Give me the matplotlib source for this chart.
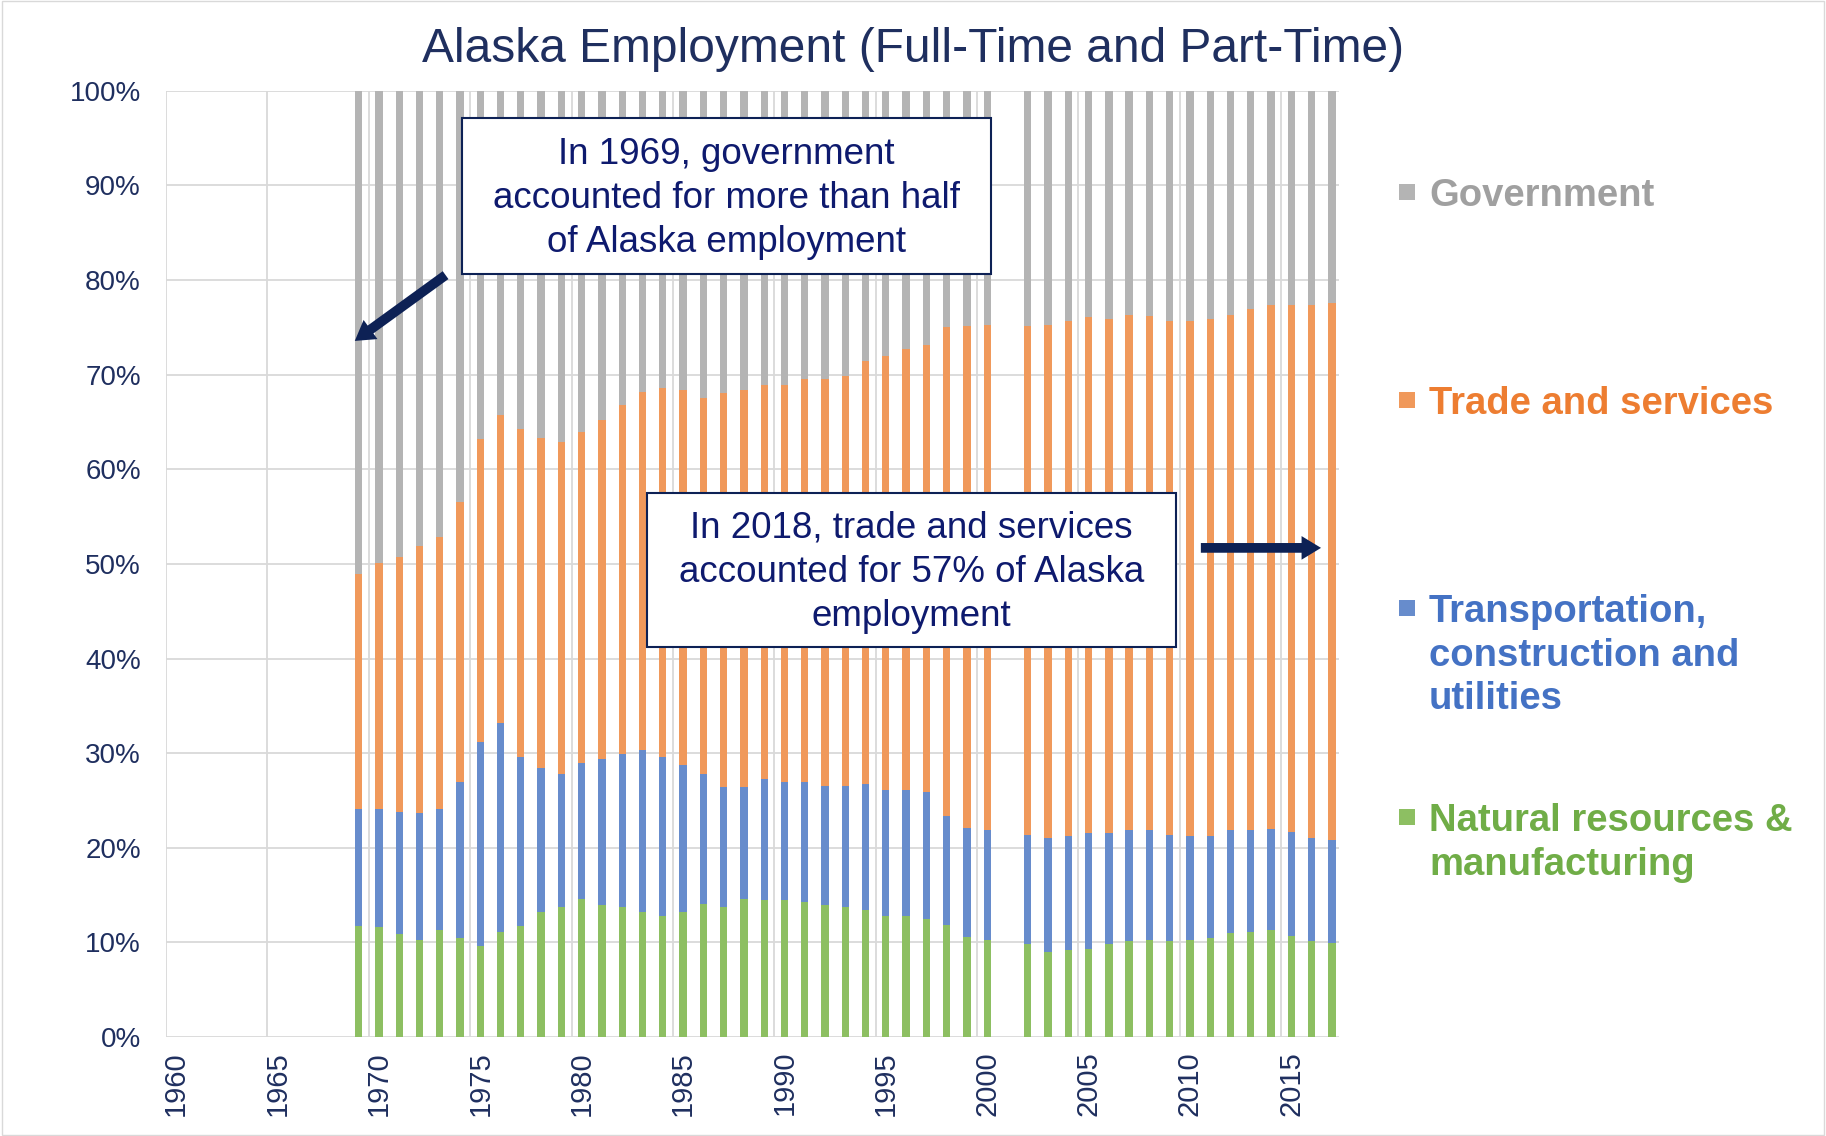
# Alaska employment shares by sector, stacked bars (1969-2017, no 2001 bar)
import matplotlib.pyplot as plt
from matplotlib.patches import Rectangle
import numpy as np

plt.rcParams['font.family'] = ['Liberation Sans', 'DejaVu Sans']

# Data (percent of total employment)
years = list(range(1969, 2001)) + list(range(2002, 2018))

natural = [11.7, 11.6, 10.9, 10.3, 11.3, 10.5, 9.6, 11.1, 11.7, 13.2,
           13.7, 14.6, 14.0, 13.7, 13.2, 12.8, 13.2, 14.1, 13.7, 14.6,
           14.5, 14.5, 14.3, 14.0, 13.7, 13.4, 12.8, 12.8, 12.5, 11.8,
           10.6, 10.3,
           9.8, 9.0, 9.2, 9.3, 9.8, 10.1, 10.3, 10.2, 10.3, 10.5,
           11.0, 11.1, 11.3, 10.7, 10.2, 9.9]

transport = [12.4, 12.5, 12.9, 13.4, 12.8, 16.5, 21.6, 22.1, 17.9, 15.2,
             14.1, 14.4, 15.4, 16.2, 17.1, 16.8, 15.6, 13.7, 12.7, 11.8,
             12.8, 12.5, 12.7, 12.5, 12.8, 13.3, 13.3, 13.3, 13.4, 11.6,
             11.5, 11.6,
             11.6, 12.0, 12.0, 12.3, 11.8, 11.8, 11.6, 11.2, 10.9, 10.7,
             10.9, 10.8, 10.7, 11.0, 10.8, 10.9]

trade = [24.8, 26.0, 26.9, 28.2, 28.7, 29.5, 32.0, 32.5, 34.7, 34.9,
         35.1, 35.0, 35.8, 36.9, 37.9, 39.0, 39.6, 39.7, 41.7, 42.0,
         41.6, 41.9, 42.6, 43.1, 43.4, 44.7, 45.9, 46.6, 47.2, 51.6,
         53.0, 53.4,
         53.7, 54.3, 54.5, 54.5, 54.3, 54.4, 54.3, 54.3, 54.5, 54.7,
         54.4, 55.0, 55.4, 55.7, 56.4, 56.8]

government = [51.1, 49.9, 49.3, 48.1, 47.2, 43.5, 36.8, 34.3, 35.7, 36.7,
              37.1, 36.0, 34.8, 33.2, 31.8, 31.4, 31.6, 32.5, 31.9, 31.6,
              31.1, 31.1, 30.4, 30.4, 30.1, 28.6, 28.0, 27.3, 26.9, 25.0,
              24.9, 24.7,
              24.9, 24.7, 24.3, 23.9, 24.1, 23.7, 23.8, 24.3, 24.3, 24.1,
              23.7, 23.1, 22.6, 22.6, 22.6, 22.4]

label_years = list(range(1960, 2016, 5))
y_ticks = list(range(0, 101, 10))

# Colours
c_gov = '#B4B4B4'
c_trade = '#F0995B'
c_trans = '#678CCC'
c_nat = '#8DBF62'
navy = '#1F2F5F'
note_navy = '#0E1A6E'
arrow_navy = '#0D2155'

fig = plt.figure(figsize=(18.26, 11.36), dpi=100)
ax = fig.add_axes([0.0909, 0.0871, 0.6424, 0.8329])

width = 0.36
nat = np.array(natural)
tra = np.array(transport)
trd = np.array(trade)
gov = np.array(government)

ax.bar(years, nat, width, color=c_nat, zorder=3)
ax.bar(years, tra, width, bottom=nat, color=c_trans, zorder=3)
ax.bar(years, trd, width, bottom=nat + tra, color=c_trade, zorder=3)
ax.bar(years, gov, width, bottom=nat + tra + trd, color=c_gov, zorder=3)

ax.set_xlim(1959.5, 2017.35)
ax.set_ylim(0, 100)

# Ticks and grid
ax.set_xticks(label_years)
ax.set_xticklabels([str(y) for y in label_years], rotation=90)
ax.set_xticks([y - 0.5 for y in label_years], minor=True)
ax.set_yticks(y_ticks)
ax.set_yticklabels([f'{v}%' for v in y_ticks])
ax.tick_params(axis='x', which='major', length=0, pad=10,
               labelsize=21, labelcolor=navy)
ax.tick_params(axis='x', which='minor', length=0)
ax.tick_params(axis='y', length=0, pad=18, labelsize=20, labelcolor=navy)
ax.grid(axis='y', which='major', color='#D9D9D9', linewidth=1.3, zorder=0)
ax.grid(axis='x', which='minor', color='#D9D9D9', linewidth=1.3, zorder=0)
for s in ax.spines.values():
    s.set_visible(False)

# Title
fig.text(0.5, 0.956, 'Alaska Employment (Full-Time and Part-Time)',
         ha='center', va='center', fontsize=34.5, color=navy)

# Callout boxes
def callout(x0, y0, w, h, text):
    fig.patches.append(Rectangle((x0, y0), w, h, transform=fig.transFigure,
                                 facecolor='white', edgecolor=arrow_navy,
                                 linewidth=1.5, zorder=5))
    fig.text(x0 + w / 2, y0 + h / 2 - 0.002, text, ha='center', va='center',
             fontsize=26.5, color=note_navy, linespacing=1.33, zorder=6)

callout(0.253, 0.7588, 0.2897, 0.1373,
        'In 1969, government\naccounted for more than half\nof Alaska employment')
callout(0.3543, 0.4305, 0.2897, 0.1356,
        'In 2018, trade and services\naccounted for 57% of Alaska\nemployment')

# Arrows
ax.annotate('', xy=(1968.7, 73.4), xytext=(1973.4, 80.7),
            arrowprops=dict(arrowstyle='simple,head_width=1.7,head_length=1.4,tail_width=0.7',
                            color=arrow_navy, lw=0), zorder=7)
ax.annotate('', xy=(2016.6, 51.7), xytext=(2010.4, 51.7),
            arrowprops=dict(arrowstyle='simple,head_width=1.7,head_length=1.4,tail_width=0.7',
                            color=arrow_navy, lw=0), zorder=7)

# Legend drawn by hand, one entry per series
W, H = 1826.0, 1136.0
legend_items = [
    ('Government', c_gov, '#A0A0A0', 192, 195.5),
    ('Trade and services', c_trade, '#ED7D31', 400, 403.5),
    ('Transportation,\nconstruction and\nutilities', c_trans, '#4472C4', 608, 655.5),
    ('Natural resources &\nmanufacturing', c_nat, '#70AD47', 817, 843),
]
sq = 16
for label, sq_col, txt_col, y_first, y_mid in legend_items:
    fig.patches.append(Rectangle(((1407 - sq / 2) / W, 1 - (y_first + sq / 2) / H),
                                 sq / W, sq / H, transform=fig.transFigure,
                                 facecolor=sq_col, edgecolor='none'))
    fig.text(1429 / W, 1 - y_mid / H, label, ha='left', va='center',
             fontsize=27.5, fontweight='bold', color=txt_col, linespacing=1.28)

# Thin frame around the whole picture
fig.patches.append(Rectangle((0.001, 0.001), 0.998, 0.998, transform=fig.transFigure,
                             facecolor='none', edgecolor='#D9D9D9', linewidth=1))

fig.savefig('out.png', dpi=100)
